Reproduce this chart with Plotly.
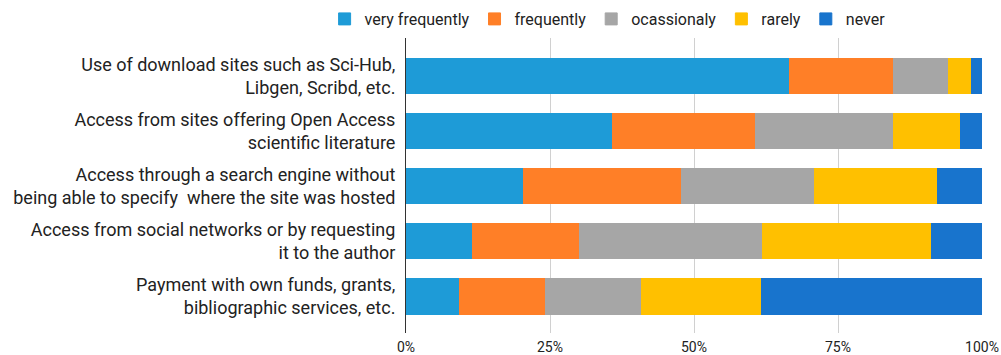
import plotly.graph_objects as go

# Survey statements (rows, top to bottom)
categories = [
    "Use of download sites such as Sci-Hub,<br>Libgen, Scribd, etc.",
    "Access from sites offering Open Access<br>scientific literature",
    "Access through a search engine without<br>being able to specify\u00a0 where the site was hosted",
    "Access from social networks or by requesting<br>it to the author",
    "Payment with own funds, grants,<br>bibliographic services, etc.",
]

# Share of answers per frequency level (%)
very_frequently = [66.6, 35.8, 20.4, 11.6, 9.3]
frequently = [18.1, 24.9, 27.5, 18.6, 14.9]
ocassionaly = [9.4, 23.9, 23.0, 31.7, 16.6]
rarely = [4.1, 11.7, 21.3, 29.4, 20.9]
never = [1.8, 3.7, 7.8, 8.7, 38.3]

x_tick_values = [0, 25, 50, 75, 100]
x_tick_labels = ["0%", "25%", "50%", "75%", "100%"]

series = [
    ("very frequently", very_frequently, "#1E9BD7"),
    ("frequently", frequently, "#FF7F27"),
    ("ocassionaly", ocassionaly, "#A6A6A6"),
    ("rarely", rarely, "#FFC000"),
    ("never", never, "#1874CD"),
]

fig = go.Figure()
for name, values, color in series:
    fig.add_trace(go.Bar(
        name=name,
        y=categories,
        x=values,
        orientation="h",
        marker=dict(color=color, line=dict(color=color, width=1)),
    ))

n = len(categories)

fig.update_layout(
    barmode="stack",
    bargap=0.35,
    width=1001,
    height=355,
    margin=dict(l=406, r=19, t=38, b=22, autoexpand=False),
    paper_bgcolor="white",
    plot_bgcolor="white",
    font=dict(family="Roboto, Arial, sans-serif", color="#222222"),
    legend=dict(
        orientation="h",
        xref="container",
        yref="container",
        x=0.607,
        xanchor="center",
        y=1 - 19 / 355,
        yanchor="middle",
        font=dict(size=16, color="#222222"),
        itemwidth=30,
        traceorder="normal",
    ),
    xaxis=dict(
        range=[0, 100],
        tickvals=x_tick_values,
        ticktext=x_tick_labels,
        showgrid=True,
        gridcolor="#D0D0D0",
        gridwidth=1,
        zeroline=False,
        showline=False,
        tickfont=dict(size=14, color="#222222"),
        ticklabelstandoff=4,
        automargin=False,
        fixedrange=True,
    ),
    yaxis=dict(
        range=[n - 1 + 0.67, -0.69],
        showline=True,
        linecolor="#333333",
        linewidth=1,
        showgrid=False,
        tickfont=dict(size=18, color="#222222"),
        ticklabelstandoff=6,
        automargin=False,
        fixedrange=True,
    ),
)

fig.write_html("out.html")
